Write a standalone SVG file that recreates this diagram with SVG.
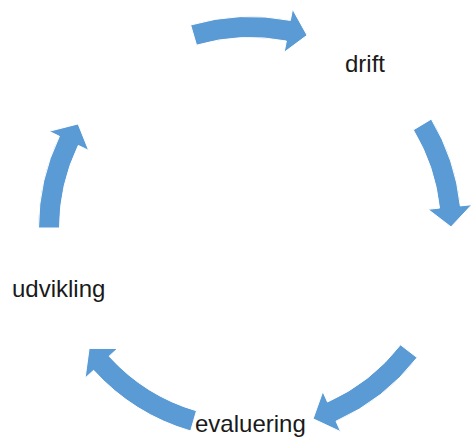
<svg xmlns="http://www.w3.org/2000/svg" width="471" height="438" viewBox="0 0 471 438">
<style>
.arrow{fill:#5B9BD5;stroke:#ffffff;stroke-width:1;stroke-linejoin:miter}
.lbl{font-family:"Liberation Sans",Arial,sans-serif;font-size:24px;fill:#1a1a1a}
</style>
<rect width="471" height="438" fill="#ffffff"/>
<g id="connectors">
<path id="arrow-top" class="arrow" d="M196.53,45.16 L190.63,25.0 A211.5,211.5 0 0 1 290.35,20.39 L292.55,9.1 L307.08,35.28 L284.15,52.3 L286.35,41.0 A190.5,190.5 0 0 0 196.53,45.16 Z"/>
<path id="arrow-right" class="arrow" d="M413.3,129.9 L431.3,119.1 A211.5,211.5 0 0 1 460.3,205.9 L471.8,204.7 L451.0,226.9 L428.0,209.3 L439.5,208.1 A190.5,190.5 0 0 0 413.3,129.9 Z"/>
<path id="arrow-bottom-right" class="arrow" d="M400.5,344.8 L417.1,357.6 A211.5,211.5 0 0 1 336.0,421.2 L340.7,431.7 L313.1,418.8 L322.8,391.5 L327.5,402.0 A190.5,190.5 0 0 0 400.5,344.8 Z"/>
<path id="arrow-bottom-left" class="arrow" d="M196.5,410.8 L190.6,431.0 A211.5,211.5 0 0 1 93.6,370.3 L85.1,378.1 L89.1,348.4 L117.6,348.5 L109.1,356.2 A190.5,190.5 0 0 0 196.5,410.8 Z"/>
<path id="arrow-left" class="arrow" d="M59.5,228 L38.5,228 A211.5,211.5 0 0 1 59.4,136.3 L49.1,131.3 L78.1,123.9 L88.7,150.4 L78.3,145.4 A190.5,190.5 0 0 0 59.5,228 Z"/>
</g>
<g id="node-drift"><text class="lbl" x="345" y="72">drift</text></g>
<g id="node-udvikling"><text class="lbl" x="12" y="297">udvikling</text></g>
<g id="node-evaluering"><text class="lbl" x="195" y="432">evaluering</text></g>
</svg>
